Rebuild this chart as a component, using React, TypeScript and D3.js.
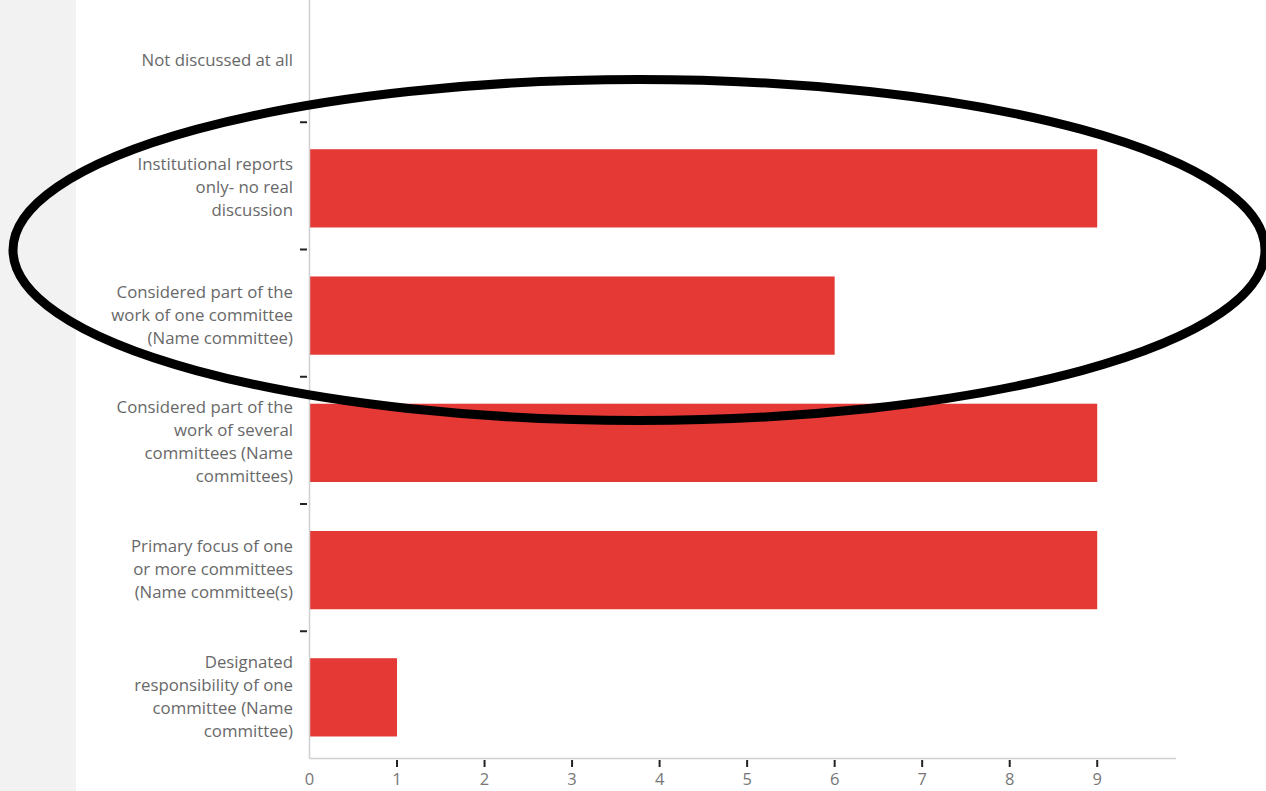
import React from "react";
import * as d3 from "d3";

const categories: string[][] = [
  ["Not discussed at all"],
  ["Institutional reports", "only- no real", "discussion"],
  ["Considered part of the", "work of one committee", "(Name committee)"],
  ["Considered part of the", "work of several", "committees (Name", "committees)"],
  ["Primary focus of one", "or more committees", "(Name committee(s)"],
  ["Designated", "responsibility of one", "committee (Name", "committee)"],
];
const values: number[] = [0, 9, 6, 9, 9, 1];
const xTicks: number[] = [0, 1, 2, 3, 4, 5, 6, 7, 8, 9];

const W = 1266;
const H = 791;
const axisX = 309.5;
const axisY = 758.5;
const top = -5;

export default function App() {
  const x = d3.scaleLinear().domain([0, 9.9]).range([axisX, 1176]);
  const ids = categories.map((_, i) => String(i));
  const y = d3.scaleBand<string>().domain(ids).range([top, axisY]).paddingInner(0).paddingOuter(0);
  const bw = y.bandwidth();
  const barH = bw * 0.615;
  const barOff = bw * 0.212;
  const fontFamily = "'Open Sans', sans-serif";
  const lineH = 23;

  return (
    <svg
      width={W}
      height={H}
      style={{ position: "fixed", top: 0, left: 0, background: "#fff" }}
    >
      <rect x={0} y={0} width={76} height={H} fill="#f2f2f2" />
      {values.map((v, i) =>
        v > 0 ? (
          <rect
            key={i}
            x={x(0)}
            y={(y(String(i)) as number) + barOff}
            width={x(v) - x(0)}
            height={barH}
            fill="#e43935"
          />
        ) : null
      )}
      <line x1={axisX} x2={axisX} y1={0} y2={axisY} stroke="#cfcfcf" strokeWidth={1.5} />
      <line x1={axisX} x2={1176} y1={axisY} y2={axisY} stroke="#cfcfcf" strokeWidth={1.5} />
      {ids.slice(1).map((id) => (
        <line
          key={id}
          x1={300}
          x2={307}
          y1={y(id) as number}
          y2={y(id) as number}
          stroke="#222"
          strokeWidth={2}
        />
      ))}
      {categories.map((lines, i) => {
        const cy = (y(String(i)) as number) + bw / 2 + 2.5;
        const startY = cy - ((lines.length - 1) * lineH) / 2;
        return (
          <text
            key={i}
            textAnchor="end"
            fontFamily={fontFamily}
            fontSize={16.8}
            fill="#686868"
            dominantBaseline="middle"
          >
            {lines.map((ln, j) => (
              <tspan key={j} x={293} y={startY + j * lineH}>
                {ln}
              </tspan>
            ))}
          </text>
        );
      })}
      {xTicks.map((t) => (
        <g key={t}>
          {t > 0 && (
            <line x1={x(t)} x2={x(t)} y1={760} y2={767} stroke="#222" strokeWidth={2} />
          )}
          <text
            x={x(t)}
            y={781}
            textAnchor="middle"
            dominantBaseline="middle"
            fontFamily={fontFamily}
            fontSize={16.5}
            fill="#777"
          >
            {t}
          </text>
        </g>
      ))}
      <ellipse cx={639} cy={250} rx={626} ry={170.5} fill="none" stroke="#000" strokeWidth={9} />
    </svg>
  );
}
